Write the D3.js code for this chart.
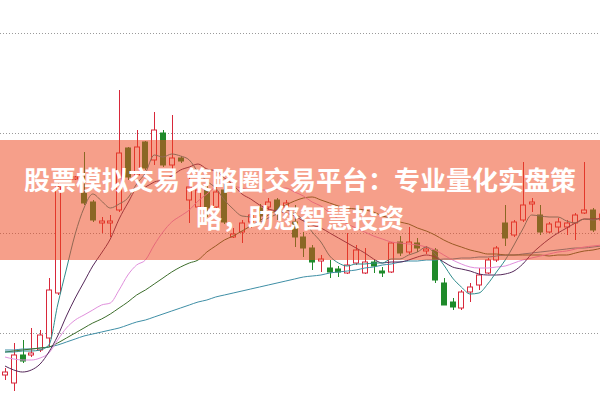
<!DOCTYPE html>
<html><head><meta charset="utf-8">
<script src="https://cdn.jsdelivr.net/npm/d3@7"></script>
<style>html,body{margin:0;padding:0;background:#fff;overflow:hidden}</style>
</head><body><svg id="c" width="600" height="400"></svg>
<script>
// candle data (index 7 = no visible candle)
const openP  = [5.8,5.0,7.8,7.8,8.3,9.5,14.0,null,25.4,24.0,23.1,21.0,21.0,22.3,28.5,25.8,29.1,27.3,30.0,26.8,27.5,23.3,22.6,24.3,22.6,24.3,19.6,20.1,21.1,22.5,22.6,23.3,22.6,21.1,19.6,18.5,17.2,16.5,16.4,16.0,17.0,16.0,17.1,16.2,16.1,19.1,18.1,19.0,18.2,18.3,15.0,13.1,12.5,14.1,14.8,16.0,17.3,21.0,19.8,21.3,22.9,21.8,20.1,20.6,20.6,21.0,22.0,22.3,21.3];
const highP  = [6.5,9.0,9.3,10.5,10.3,15.5,25.0,null,25.7,28.1,23.3,21.6,21.8,34.3,28.6,30.3,29.2,32.1,30.3,31.8,27.7,25.6,24.8,24.8,24.6,25.3,20.5,21.3,22.1,22.9,23.5,23.5,23.3,22.8,20.1,18.8,17.8,17.3,16.7,20.0,18.8,18.5,17.3,16.6,19.1,19.7,20.6,19.5,18.7,18.5,15.5,13.5,14.3,15.0,16.5,17.5,18.7,22.8,21.3,27.1,23.5,22.8,21.1,21.5,21.3,22.0,27.1,22.5,22.1];
const lowP   = [5.3,4.2,7.0,7.6,8.1,8.6,13.8,null,25.3,22.8,21.1,20.0,19.6,22.1,25.3,25.6,26.3,26.8,26.6,26.3,27.0,21.0,22.3,21.6,22.3,20.9,19.5,19.0,20.5,21.3,22.3,21.3,22.3,18.6,17.6,16.3,16.1,15.5,15.6,15.9,16.8,15.9,16.0,15.6,16.0,17.7,17.9,18.1,17.9,15.0,12.8,12.3,12.3,13.1,14.3,15.9,17.1,18.7,19.6,21.1,22.1,19.8,20.0,20.0,19.8,19.3,21.9,20.1,21.1];
const closeP = [6.1,7.8,7.2,8.0,9.8,14.3,24.6,null,25.6,23.0,21.3,21.2,21.2,28.0,25.6,28.6,26.5,30.3,26.8,27.5,27.2,24.6,24.3,22.5,24.1,21.1,19.9,21.0,21.8,21.7,23.1,22.1,23.0,19.6,18.5,17.1,17.4,16.1,16.1,16.8,18.3,17.1,16.7,16.0,19.0,18.0,19.1,18.5,18.4,15.3,12.8,12.6,14.1,14.6,15.8,17.3,18.5,19.5,21.1,22.8,23.1,20.1,20.9,21.1,21.0,21.8,22.3,20.3,21.9];

// moving-average lines
const ma5  = [8.1,8.1,8.2,8.2,8.3,8.8,12.8,16.4,19.9,22.5,23.9,23.2,22.5,22.9,23.5,24.9,26.0,27.8,27.6,27.9,27.7,27.3,26.1,25.2,24.5,23.3,22.4,21.7,21.6,21.1,21.5,21.9,22.3,21.9,21.3,20.1,19.1,17.7,17.0,16.7,16.9,16.9,17.0,17.0,17.4,17.4,17.8,18.1,18.6,17.9,16.8,15.5,14.6,13.9,14.0,14.9,16.1,17.3,18.8,20.4,21.8,21.7,21.6,21.6,21.2,21.0,21.4,21.3,21.5];
const ma10 = [6.7,6.3,6.1,6.3,6.9,8.1,9.7,11.7,13.5,15.1,16.7,18.0,19.4,21.4,23.0,24.4,24.6,25.1,25.3,25.7,26.3,26.6,26.9,26.4,26.2,25.5,24.8,23.9,23.4,22.8,22.4,22.2,22.0,21.7,21.2,20.8,20.5,20.0,19.5,19.0,18.5,18.0,17.4,17.0,17.1,17.1,17.3,17.6,17.8,17.6,17.1,16.6,16.4,16.2,15.9,15.8,15.8,15.9,16.2,16.9,17.9,18.7,19.4,20.0,20.5,21.0,21.4,21.4,21.5];
const ma20 = [7.6,7.4,7.3,7.3,7.5,8.0,9.3,10.5,11.3,11.8,12.3,12.8,13.0,14.3,15.8,16.8,17.3,18.8,20.1,21.1,21.7,22.3,23.2,23.9,24.6,25.0,24.7,24.5,24.3,24.3,24.3,24.4,24.5,24.1,23.7,23.1,22.7,22.0,21.4,20.9,20.5,20.1,19.7,19.4,19.1,19.0,18.9,18.8,18.6,18.3,17.8,17.3,16.9,16.6,16.5,16.5,16.6,16.7,17.0,17.3,17.5,17.7,17.9,18.1,18.2,18.4,18.6,18.7,18.8];
const ma30 = [8.1,8.2,8.3,8.4,8.5,8.6,9.0,9.5,10.0,10.5,11.0,11.4,11.9,12.5,13.1,13.8,14.3,14.9,15.5,16.1,16.6,17.0,17.3,18.1,18.7,19.3,19.7,20.2,20.7,21.2,21.8,22.3,22.8,23.2,23.5,23.6,23.3,23.0,22.7,22.5,22.4,22.3,22.1,21.7,21.5,21.1,20.9,20.5,20.2,19.8,19.3,18.9,18.6,18.3,18.1,17.9,17.9,17.8,17.8,17.8,17.8,17.8,17.7,17.8,17.8,18.0,18.2,18.3,18.5];
const ma60 = [8.3,8.3,8.4,8.4,8.5,8.6,8.8,9.1,9.4,9.7,9.9,10.1,10.3,10.5,10.8,11.1,11.3,11.6,11.9,12.2,12.5,12.8,13.1,13.3,13.6,13.8,14.0,14.2,14.4,14.6,14.8,15.0,15.2,15.4,15.6,15.7,15.8,16.0,16.1,16.2,16.3,16.5,16.6,16.8,16.9,17.1,17.2,17.2,17.3,17.3,17.4,17.4,17.5,17.5,17.6,17.6,17.7,17.8,17.8,17.9,18.0,18.1,18.2,18.3,18.4,18.5,18.5,18.6,18.7];

const gridTicks = [10, 20, 30, 40];
const titleLines = ["股票模拟交易 策略圈交易平台：专业量化实盘策", "略，助您智慧投资"];

const W = 600, H = 400;
const svg = d3.select('#c');
const x = d3.scaleLinear().domain([0, 67]).range([5, 593]);
const y = d3.scaleLinear().domain([3.3, 43.3]).range([H, 0]);

// grid
const gAxis = svg.append('g').call(d3.axisRight(y).tickValues(gridTicks).tickSize(W).tickFormat(''));
gAxis.select('.domain').remove();
gAxis.selectAll('line').attr('stroke', '#9a9a9a').attr('stroke-dasharray', '1,2');

const candles = openP.map((o, i) => ({i, o, h: highP[i], l: lowP[i], c: closeP[i]})).filter(d => d.o != null);
const RED = '#d8283a', GREEN = '#1f8a2a';
const cg = svg.append('g');
cg.selectAll('line.w').data(candles).join('line')
  .attr('x1', d => Math.round(x(d.i)) + 0.5).attr('x2', d => Math.round(x(d.i)) + 0.5)
  .attr('y1', d => y(d.h)).attr('y2', d => y(d.l))
  .attr('stroke', d => d.c >= d.o ? RED : GREEN).attr('stroke-width', 1);
cg.selectAll('rect').data(candles).join('rect')
  .attr('x', d => Math.round(x(d.i)) - 2.5)
  .attr('width', 6 - 1)
  .attr('y', d => y(Math.max(d.o, d.c)))
  .attr('height', d => Math.max(1, Math.abs(y(d.o) - y(d.c))))
  .attr('fill', d => d.c >= d.o ? '#fff' : GREEN)
  .attr('stroke', d => d.c >= d.o ? RED : GREEN).attr('stroke-width', 1);

// MA lines
const series = [
  {v: ma60, col: '#3f8fa6'},
  {v: ma30, col: '#3d6e2c'},
  {v: ma20, col: '#e08fdc'},
  {v: ma10, col: '#55285a'},
  {v: ma5,  col: '#2f8c8c'}
];
const line = d3.line().x((d, i) => x(i)).y(d => y(d)).curve(d3.curveMonotoneX);
svg.append('g').selectAll('path').data(series).join('path')
  .attr('d', s => line(s.v)).attr('fill', 'none').attr('stroke', s => s.col).attr('stroke-width', 1);

// banner
svg.append('rect').attr('x', 0).attr('y', 140).attr('width', W).attr('height', 120)
  .attr('fill', 'rgb(238,70,30)').attr('fill-opacity', 0.52);
svg.append('g').selectAll('text').data(titleLines).join('text')
  .attr('x', 300).attr('y', (d, i) => 190 + i * 38)
  .attr('text-anchor', 'middle')
  .attr('font-family', '"Noto Sans CJK SC", "Noto Sans", sans-serif')
  .attr('font-weight', 'bold').attr('font-size', 26).attr('fill', '#fff')
  .text(d => d);
</script></body></html>
